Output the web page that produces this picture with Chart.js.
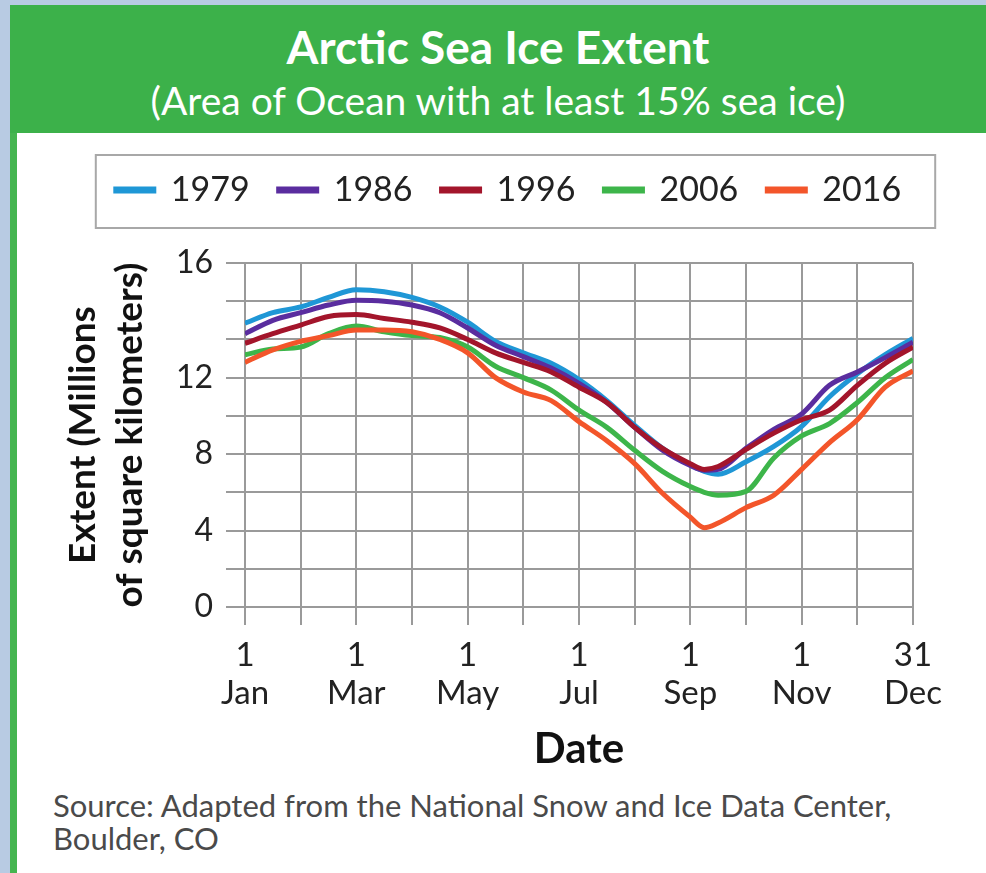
<!DOCTYPE html>
<html>
<head>
<meta charset="utf-8">
<script src="https://cdn.jsdelivr.net/npm/chart.js@4.4.1/dist/chart.umd.min.js"></script>
<style>
html,body{margin:0;padding:0;}
body{width:986px;height:873px;background:#b8cbe3;position:relative;overflow:hidden;font-family:Lato,"Open Sans",sans-serif;}
#panel{position:absolute;left:10px;top:5px;width:976px;height:868px;background:#fff;border-left:7px solid #45b550;box-sizing:border-box;}
#header{position:absolute;left:10px;top:5px;width:976px;height:128px;background:#3cb14a;}
.htext{position:absolute;left:10px;width:976px;text-align:center;color:#fff;}
#title{top:19px;font-weight:700;font-size:46px;line-height:56px;}
#subtitle{top:78px;font-size:39px;line-height:44px;}
#chartBox{position:absolute;left:17px;top:135px;width:969px;height:650px;}
#source{position:absolute;left:53px;top:789px;font-size:31px;line-height:33px;color:#4a4a4a;}
</style>
</head>
<body>
<div id="panel"></div>
<div id="header"></div>
<div class="htext" id="title">Arctic Sea Ice Extent</div>
<div class="htext" id="subtitle">(Area of Ocean with at least 15% sea ice)</div>
<div id="chartBox"><canvas id="c" width="969" height="650"></canvas></div>
<div id="source">Source: Adapted from the National Snow and Ice Data Center,<br>Boulder, CO</div>
<script>
// x positions in months since 1 Jan (0 = 1 Jan, 12 = 31 Dec)
const months  = [0,0.5,1,1.5,2,2.5,3,3.5,4,4.5,5,5.5,6,6.5,7,7.5,8,8.25,8.5,9,9.5,10,10.5,11,11.5,12];
const ext1979 = [14.85,15.4,15.7,16.2,16.6,16.5,16.2,15.7,14.9,13.9,13.3,12.75,11.9,10.8,9.5,8.3,7.45,7.1,6.95,7.6,8.4,9.45,11.0,12.2,13.2,14.05];
const ext1986 = [14.3,15.0,15.4,15.8,16.05,16.0,15.8,15.4,14.6,13.7,13.1,12.5,11.7,10.7,9.4,8.2,7.4,7.15,7.2,8.3,9.3,10.1,11.6,12.3,13.05,13.85];
const ext1996 = [13.8,14.3,14.75,15.2,15.3,15.1,14.9,14.6,14.0,13.3,12.8,12.3,11.5,10.7,9.4,8.3,7.5,7.2,7.35,8.25,9.1,9.8,10.3,11.6,12.75,13.6];
const ext2006 = [13.2,13.5,13.6,14.3,14.7,14.4,14.2,14.1,13.6,12.6,12.0,11.35,10.3,9.4,8.2,7.1,6.3,6.0,5.85,6.05,7.8,8.95,9.6,10.7,12.0,12.95];
const ext2016 = [12.8,13.45,13.9,14.2,14.5,14.5,14.4,14.0,13.3,12.0,11.25,10.8,9.7,8.7,7.5,5.95,4.7,4.15,4.4,5.2,5.85,7.2,8.6,9.8,11.5,12.35];

const seriesNames  = ['1979','1986','1996','2006','2016'];
const seriesValues = [ext1979, ext1986, ext1996, ext2006, ext2016];
const seriesColors = ['#1f97d6','#5a2d9f','#a3152b','#3db54a','#f3552a'];

const xTickLabels = [['1','Jan'],'',['1','Mar'],'',['1','May'],'',['1','Jul'],'',['1','Sep'],'',['1','Nov'],'',['31','Dec']];
const yTickLabels = ['0','','4','','8','','12','','','16'];

const FONT = 'Lato, "Open Sans", sans-serif';

const datasets = seriesNames.map((name, i) => ({
  label: name,
  data: months.map((m, j) => ({x: m, y: seriesValues[i][j]})),
  borderColor: seriesColors[i],
  backgroundColor: seriesColors[i],
  borderWidth: 5,
  pointRadius: 0,
  fill: false,
  cubicInterpolationMode: 'monotone',
  order: seriesNames.length - 1 - i
}));

const legendFrame = {
  id: 'legendFrame',
  beforeInit(chart) {
    const lg = chart.legend;
    const origFit = lg.fit;
    lg.fit = function () { origFit.call(lg); lg.height += 46; };
  },
  afterDraw(chart) {
    const boxes = chart.legend && chart.legend.legendHitBoxes;
    if (!boxes || !boxes.length) return;
    const l = Math.min(...boxes.map(b => b.left)) - 20;
    const r = Math.max(...boxes.map(b => b.left + b.width)) + 34;
    const t = boxes[0].top - 18;
    const b = boxes[0].top + boxes[0].height + 21;
    const ctx = chart.ctx;
    ctx.save();
    ctx.strokeStyle = '#a8a8a8';
    ctx.lineWidth = 2;
    ctx.strokeRect(l, t, r - l, b - t);
    ctx.restore();
  }
};

new Chart(document.getElementById('c'), {
  type: 'line',
  data: {datasets},
  plugins: [legendFrame],
  options: {
    responsive: false,
    animation: false,
    layout: {padding: {top: 9, right: 0, left: 14, bottom: 0}},
    plugins: {
      tooltip: {enabled: false},
      legend: {
        position: 'top',
        labels: {
          boxWidth: 38, boxHeight: 2, padding: 29, color: '#222',
          font: {family: FONT, size: 34},
          sort: (a, b) => a.datasetIndex - b.datasetIndex
        }
      }
    },
    scales: {
      x: {
        type: 'linear', min: 0, max: 12,
        ticks: {
          stepSize: 1, autoSkip: false, maxRotation: 0, padding: 11,
          color: '#222', font: {family: FONT, size: 33, lineHeight: 1.15},
          callback: (v) => xTickLabels[Math.round(v)]
        },
        grid: {color: '#9a9a9a', lineWidth: 2, tickLength: 18},
        border: {color: '#9a9a9a', width: 2},
        title: {display: true, text: 'Date', color: '#111',
          font: {family: FONT, size: 42, weight: 'bold', lineHeight: 1.2},
          padding: {top: 0, bottom: 10}},
        afterFit(s) { s.height = 178; }
      },
      y: {
        type: 'linear', min: 0, max: 18,
        ticks: {
          stepSize: 2, padding: 13, color: '#222', autoSkip: false,
          font: {family: FONT, size: 32},
          callback: (v) => yTickLabels[Math.round(v / 2)]
        },
        grid: {color: '#9a9a9a', lineWidth: 2, tickLength: 19},
        border: {color: '#9a9a9a', width: 2},
        title: {display: true, text: ['Extent (Millions', 'of square kilometers)'], color: '#111',
          font: {family: FONT, size: 37, weight: 'bold', lineHeight: 1.27},
          padding: {top: 29, bottom: 0}},
        afterFit(s) { s.width = 214; }
      },
      yRight: {
        type: 'linear', position: 'right', display: true,
        ticks: {display: false},
        grid: {display: false, drawTicks: false},
        border: {display: false},
        afterFit(s) { s.width = 73; }
      }
    }
  }
});
</script>
</body>
</html>
